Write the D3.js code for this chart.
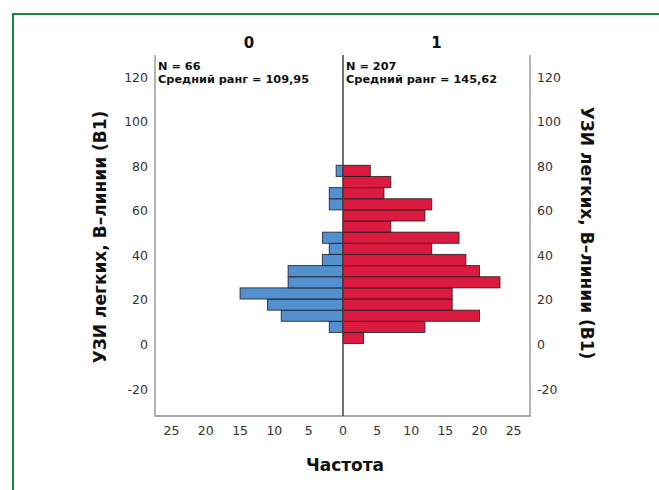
<!DOCTYPE html>
<html>
<head>
<meta charset="utf-8">
<script src="https://cdn.jsdelivr.net/npm/d3@7"></script>
<style>
  body { margin: 0; background: #fff; }
  svg { display: block; font-family: "DejaVu Sans", sans-serif; }
</style>
</head>
<body>
<div id="chart"></div>
<script>
// bin lower edges (width 5) and counts per group, bottom to top
var binStarts = [0.5, 5.5, 10.5, 15.5, 20.5, 25.5, 30.5, 35.5, 40.5, 45.5, 50.5, 55.5, 60.5, 65.5, 70.5, 75.5];
var binWidth = 5;
var counts0 = [0, 2, 9, 11, 15, 8, 8, 3, 2, 3, 0, 0, 2, 2, 0, 1];
var counts1 = [3, 12, 20, 16, 16, 23, 20, 18, 13, 17, 7, 12, 13, 6, 7, 4];
var groups = ["0", "1"];
var groupStats = ["N = 66|Средний ранг = 109,95", "N = 207|Средний ранг = 145,62"];
var yTicks = [-20, 0, 20, 40, 60, 80, 100, 120];
var xTicks = [0, 5, 10, 15, 20, 25];

var width = 659, height = 490;
var plot = { left: 155, mid: 343, right: 530, top: 55, bottom: 416 };

var svg = d3.select("#chart")
  .append("svg")
  .attr("width", width)
  .attr("height", height);

// green frame (only left and top edges are visible)
svg.append("path")
  .attr("d", "M13,490 L13,14 L659,14")
  .attr("fill", "none")
  .attr("stroke", "#12884c")
  .attr("stroke-width", 2);

var yScale = d3.scaleLinear()
  .domain([-32, 130])
  .range([plot.bottom, plot.top]);

var xLeft = d3.scaleLinear()
  .domain([0, 27.4])
  .range([plot.mid, plot.left]);

var xRight = d3.scaleLinear()
  .domain([0, 27.4])
  .range([plot.mid, plot.right]);

function binData(counts) {
  return counts.map(function(c, i) {
    return { lo: binStarts[i], hi: binStarts[i] + binWidth, n: c };
  }).filter(function(d) { return d.n > 0; });
}

// bars
svg.selectAll(".bar0")
  .data(binData(counts0))
  .enter().append("rect")
  .attr("class", "bar0")
  .attr("x", function(d) { return xLeft(d.n); })
  .attr("width", function(d) { return xLeft(0) - xLeft(d.n); })
  .attr("y", function(d) { return yScale(d.hi); })
  .attr("height", function(d) { return yScale(d.lo) - yScale(d.hi); })
  .attr("fill", "#5290d0")
  .attr("stroke", "#1a1a1a")
  .attr("stroke-opacity", 0.8)
  .attr("stroke-width", 1);

svg.selectAll(".bar1")
  .data(binData(counts1))
  .enter().append("rect")
  .attr("class", "bar1")
  .attr("x", xRight(0))
  .attr("width", function(d) { return xRight(d.n) - xRight(0); })
  .attr("y", function(d) { return yScale(d.hi); })
  .attr("height", function(d) { return yScale(d.lo) - yScale(d.hi); })
  .attr("fill", "#dc1a40")
  .attr("stroke", "#1a1a1a")
  .attr("stroke-opacity", 0.8)
  .attr("stroke-width", 1);

// frame lines
svg.append("path")
  .attr("d", "M" + plot.left + "," + plot.top + " L" + plot.left + "," + plot.bottom +
             " L" + plot.right + "," + plot.bottom + " L" + plot.right + "," + plot.top)
  .attr("fill", "none")
  .attr("stroke", "#8c8c8c")
  .attr("stroke-width", 1.3);

svg.append("line")
  .attr("x1", plot.mid).attr("x2", plot.mid)
  .attr("y1", plot.top).attr("y2", plot.bottom)
  .attr("stroke", "#444")
  .attr("stroke-width", 1.5);

// y tick labels, both sides
svg.selectAll(".ytl")
  .data(yTicks)
  .enter().append("text")
  .attr("x", 148)
  .attr("y", function(d) { return yScale(d); })
  .attr("dy", "0.35em")
  .attr("text-anchor", "end")
  .attr("font-size", 12.5)
  .attr("fill", "#333")
  .text(function(d) { return d; });

svg.selectAll(".ytr")
  .data(yTicks)
  .enter().append("text")
  .attr("x", 537)
  .attr("y", function(d) { return yScale(d); })
  .attr("dy", "0.35em")
  .attr("text-anchor", "start")
  .attr("font-size", 12.5)
  .attr("fill", "#333")
  .text(function(d) { return d; });

// x tick labels
[xLeft, xRight].forEach(function(sc, k) {
  svg.selectAll(".xt" + k)
    .data(k === 0 ? xTicks : xTicks.slice(1))
    .enter().append("text")
    .attr("x", function(d) { return sc(d); })
    .attr("y", 435)
    .attr("text-anchor", "middle")
    .attr("font-size", 12.5)
    .attr("fill", "#333")
    .text(function(d) { return d; });
});

// group titles and stats
var panelCenters = [(plot.left + plot.mid) / 2, (plot.mid + plot.right) / 2];
var panelStarts = [plot.left + 3, plot.mid + 3];
groups.forEach(function(g, i) {
  svg.append("text")
    .attr("x", panelCenters[i])
    .attr("y", 48)
    .attr("text-anchor", "middle")
    .attr("font-size", 15)
    .attr("font-weight", "bold")
    .attr("fill", "#111")
    .text(g);

  var lines = groupStats[i].split("|");
  svg.append("text")
    .attr("x", panelStarts[i])
    .attr("y", 69.5)
    .attr("font-size", 11.3)
    .attr("font-weight", "bold")
    .attr("fill", "#111")
    .text(lines[0]);
  svg.append("text")
    .attr("x", panelStarts[i])
    .attr("y", 83)
    .attr("font-size", 11.3)
    .attr("font-weight", "bold")
    .attr("fill", "#111")
    .text(lines[1]);
});

// axis titles
svg.append("text")
  .attr("x", 345)
  .attr("y", 471)
  .attr("text-anchor", "middle")
  .attr("font-size", 17)
  .attr("font-weight", "bold")
  .attr("fill", "#111")
  .text("Частота");

svg.append("text")
  .attr("transform", "translate(106," + 237 + ") rotate(-90)")
  .attr("text-anchor", "middle")
  .attr("font-size", 17)
  .attr("font-weight", "bold")
  .attr("fill", "#111")
  .text("УЗИ легких, В–линии (В1)");

svg.append("text")
  .attr("transform", "translate(581," + 233 + ") rotate(90)")
  .attr("text-anchor", "middle")
  .attr("font-size", 17)
  .attr("font-weight", "bold")
  .attr("fill", "#111")
  .text("УЗИ легких, В–линии (В1)");
</script>
</body>
</html>
